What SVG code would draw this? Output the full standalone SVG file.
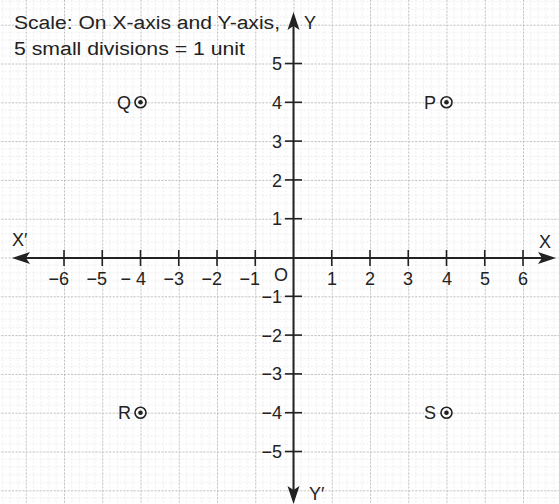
<svg xmlns="http://www.w3.org/2000/svg" width="559" height="504" viewBox="0 0 559 504">
<style>
text{font-family:"Liberation Sans",Arial,sans-serif;fill:#222;font-size:18px}
.yl{text-anchor:end}
.xl{text-anchor:middle}
.axis{stroke:#222;stroke-width:2;fill:none}
.tick{stroke:#222;stroke-width:1.6}
.pt{fill:none;stroke:#222;stroke-width:1.6}
.dot{fill:#222}
</style>
<defs>
<pattern id="grid" patternUnits="userSpaceOnUse" x="293.5" y="257.5" width="38.25" height="38.8">
<g stroke="#e2e2e2" stroke-width="0.8" stroke-dasharray="1.5 2">
<line x1="7.65" y1="0" x2="7.65" y2="38.8"/><line x1="15.3" y1="0" x2="15.3" y2="38.8"/><line x1="22.95" y1="0" x2="22.95" y2="38.8"/><line x1="30.6" y1="0" x2="30.6" y2="38.8"/>
<line x1="0" y1="7.76" x2="38.25" y2="7.76"/><line x1="0" y1="15.52" x2="38.25" y2="15.52"/><line x1="0" y1="23.28" x2="38.25" y2="23.28"/><line x1="0" y1="31.04" x2="38.25" y2="31.04"/>
</g>
<g stroke="#bdbdbd" stroke-width="1" stroke-dasharray="2 1.5">
<line x1="0.5" y1="0" x2="0.5" y2="38.8"/><line x1="0" y1="0.5" x2="38.25" y2="0.5"/>
</g>
</pattern>
</defs>
<rect width="559" height="504" fill="#fff"/>
<rect width="559" height="504" fill="url(#grid)"/>
<g id="caption">
<text x="14" y="29" textLength="266" lengthAdjust="spacingAndGlyphs">Scale: On X-axis and Y-axis,</text>
<text x="14" y="55" textLength="231" lengthAdjust="spacingAndGlyphs">5 small divisions = 1 unit</text>
</g>
<g id="connectors">
<line class="axis" x1="22" y1="258" x2="544" y2="258"/>
<line class="axis" x1="293.5" y1="22" x2="293.5" y2="494"/>
<polygon points="12,258 30,252 26,258 30,264" fill="#222"/>
<polygon points="556,258 538,252 542,258 538,264" fill="#222"/>
<polygon points="293.5,12 287.5,30 293.5,26 299.5,30" fill="#222"/>
<polygon points="293.5,504 287.5,486 293.5,490 299.5,486" fill="#222"/>
<g class="tick">
<line x1="64" y1="250" x2="64" y2="266"/><line x1="102.25" y1="250" x2="102.25" y2="266"/><line x1="140.5" y1="250" x2="140.5" y2="266"/><line x1="178.75" y1="250" x2="178.75" y2="266"/><line x1="217" y1="250" x2="217" y2="266"/><line x1="255.25" y1="250" x2="255.25" y2="266"/>
<line x1="331.75" y1="250" x2="331.75" y2="266"/><line x1="370" y1="250" x2="370" y2="266"/><line x1="408.25" y1="250" x2="408.25" y2="266"/><line x1="446.5" y1="250" x2="446.5" y2="266"/><line x1="484.75" y1="250" x2="484.75" y2="266"/><line x1="523" y1="250" x2="523" y2="266"/>
<line x1="285" y1="63.5" x2="302" y2="63.5"/><line x1="285" y1="102.3" x2="302" y2="102.3"/><line x1="285" y1="141.1" x2="302" y2="141.1"/><line x1="285" y1="179.9" x2="302" y2="179.9"/><line x1="285" y1="218.7" x2="302" y2="218.7"/>
<line x1="285" y1="296.3" x2="302" y2="296.3"/><line x1="285" y1="335.1" x2="302" y2="335.1"/><line x1="285" y1="373.9" x2="302" y2="373.9"/><line x1="285" y1="412.7" x2="302" y2="412.7"/><line x1="285" y1="451.5" x2="302" y2="451.5"/>
</g>
</g>
<g id="axis-labels">
<text x="12" y="246">X′</text>
<text x="539" y="248">X</text>
<text x="304" y="29">Y</text>
<text x="309" y="500">Y′</text>
<text x="274" y="281">O</text>
</g>
<g id="x-numbers">
<text class="yl" x="69" y="285">−6</text>
<text class="yl" x="107" y="285">−5</text>
<text class="yl" x="146" y="285">− 4</text>
<text class="yl" x="184" y="285">−3</text>
<text class="yl" x="222" y="285">−2</text>
<text class="yl" x="260" y="285">−1</text>
<text class="xl" x="332" y="285">1</text>
<text class="xl" x="370" y="285">2</text>
<text class="xl" x="408" y="285">3</text>
<text class="xl" x="447" y="285">4</text>
<text class="xl" x="485" y="285">5</text>
<text class="xl" x="523" y="285">6</text>
</g>
<g id="y-numbers">
<text class="yl" x="282" y="70">5</text>
<text class="yl" x="282" y="109">4</text>
<text class="yl" x="282" y="148">3</text>
<text class="yl" x="282" y="187">2</text>
<text class="yl" x="282" y="225">1</text>
<text class="yl" x="282" y="303">−1</text>
<text class="yl" x="282" y="342">−2</text>
<text class="yl" x="282" y="380">−3</text>
<text class="yl" x="282" y="419">−4</text>
<text class="yl" x="282" y="458">−5</text>
</g>
<g id="P">
<circle class="pt" cx="446.5" cy="102.3" r="5.5"/><circle class="dot" cx="446.5" cy="102.3" r="2.3"/>
<text class="yl" x="436" y="109">P</text>
</g>
<g id="Q">
<circle class="pt" cx="140.5" cy="102.3" r="5.5"/><circle class="dot" cx="140.5" cy="102.3" r="2.3"/>
<text class="yl" x="131" y="109">Q</text>
</g>
<g id="R">
<circle class="pt" cx="140.5" cy="412.7" r="5.5"/><circle class="dot" cx="140.5" cy="412.7" r="2.3"/>
<text class="yl" x="131" y="419">R</text>
</g>
<g id="S">
<circle class="pt" cx="446.5" cy="412.7" r="5.5"/><circle class="dot" cx="446.5" cy="412.7" r="2.3"/>
<text class="yl" x="436" y="419">S</text>
</g>
</svg>
